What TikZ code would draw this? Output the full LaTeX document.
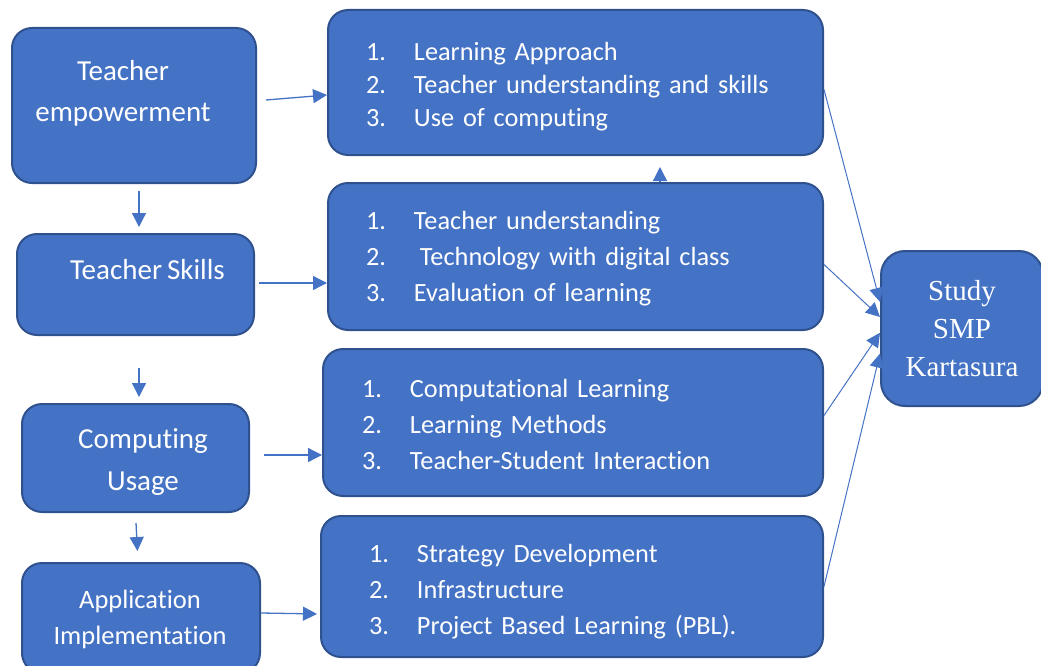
\documentclass[tikz,border=0pt]{standalone}
\usepackage{fontspec}
\setmainfont{Carlito}[Ligatures=NoCommon, WordSpace=0.75]
\newfontfamily\studyfont{Liberation Serif}
\usetikzlibrary{arrows.meta}
\definecolor{boxfill}{HTML}{4472C4}
\definecolor{boxline}{HTML}{2F528F}
\newcommand{\lno}[1]{\makebox[48pt][l]{#1}}
\newcommand{\lift}[1]{\rule{0pt}{#1}}

\tikzset{
  box/.style={draw=boxline, fill=boxfill, line width=2pt, rounded corners=20pt, text=white, inner sep=0pt},
  lbl/.style={text=white, align=center, font=\fontsize{29}{41}\selectfont},
  listbox/.style={box, align=left, font=\fontsize{26.3}{36}\selectfont},
  arr/.style={draw=boxfill, line width=1.3pt, -{Triangle[length=14pt,width=14pt]}}
}

\begin{document}
\begin{tikzpicture}[x=1pt, y=-1pt]
\useasboundingbox (0,0) rectangle (1041,666);

% left column
\node[box, minimum width=244pt, minimum height=155pt,
  label={[lbl, xshift=-11pt, yshift=12pt]center:Teacher\\empowerment}] (empower) at (134,105.5) {};
\node[box, minimum width=237pt, minimum height=101pt,
  label={[lbl, xshift=12pt, yshift=15pt]center:Teacher Skills}] (skills) at (135.5,284.5) {};
\node[box, minimum width=227pt, minimum height=108pt,
  label={[lbl, font=\fontsize{29}{42}\selectfont, xshift=7.5pt, yshift=-4pt]center:Computing\\Usage}] (usage) at (135.5,458) {};
\node[box, minimum width=238pt, minimum height=110pt,
  label={[lbl, font=\fontsize{26.5}{36}\selectfont, xshift=-1pt, yshift=-1pt]center:Application\\Implementation}] (apply) at (141,618) {};

% lists in the middle
\node[listbox, minimum height=145pt, text width=419pt, inner xsep=38pt, font=\fontsize{26.3}{33}\selectfont] (approach) at (575.5,82.5)
  {\lift{27pt}\lno{1.}Learning Approach\\ \lno{2.}Teacher understanding and skills\\ \lno{3.}Use of computing};
\node[listbox, minimum height=147pt, text width=419pt, inner xsep=38pt] (skillset) at (575.5,256.5)
  {\lift{23pt}\lno{1.}Teacher understanding\\ \lno{2.}\hspace{6pt}Technology with digital class\\ \lno{3.}Evaluation of learning};
\node[listbox, minimum height=147pt, text width=422pt, inner xsep=39pt] (computing) at (573,422.5)
  {\lift{23pt}\lno{1.}Computational Learning\\ \lno{2.}Learning Methods\\ \lno{3.}Teacher-Student Interaction};
\node[listbox, minimum height=141pt, text width=406pt, inner xsep=48pt] (strategy) at (572,586.5)
  {\lift{29pt}\lno{1.}Strategy Development\\ \lno{2.}Infrastructure\\ \lno{3.}Project Based Learning (PBL).};

% target
\node[box, rounded corners=24pt, minimum width=162pt, minimum height=155pt, align=center,
  font=\studyfont\fontsize{29}{38}\selectfont] (study) at (962,328.5) {Study\\SMP\\Kartasura};

% down the left column
\draw[arr, shorten <=7pt, shorten >=6pt] ([xshift=5pt]empower.south) -- ([xshift=3.5pt]skills.north);
\draw[arr, shorten <=32pt, shorten >=6pt] ([xshift=3.5pt]skills.south) -- ([xshift=3.5pt]usage.north);
\draw[arr, shorten <=10pt, shorten >=11pt] (usage.south) -- ([xshift=-3pt]apply.north);

% left to middle
\draw[arr] ([xshift=9pt,yshift=5.5pt]empower.east) -- ([yshift=-12.5pt]approach.west);
\draw[arr] ([xshift=4pt,yshift=1.5pt]skills.east) -- ([yshift=1.5pt]skills.east -| skillset.west);
\draw[arr] ([xshift=14pt,yshift=3pt]usage.east) -- ([yshift=3pt]usage.east -| computing.west);
\draw[arr, shorten >=3pt] ([yshift=5pt]apply.east) -- ([yshift=4pt]apply.east -| strategy.west);
\draw[arr, shorten >=11pt] ([xshift=84.5pt]skillset.north) -- ([xshift=84.5pt]approach.south);

% middle to target
\draw[arr, line width=1pt] ([yshift=-7pt]approach.east) -- (study.162);
\draw[arr, line width=1pt] ([yshift=-8pt]skillset.east) -- (study.172);
\draw[arr, line width=1pt] ([yshift=7pt]computing.east) -- (study.183);
\draw[arr, line width=1pt] (strategy.east) -- (study.197);
\end{tikzpicture}
\end{document}
